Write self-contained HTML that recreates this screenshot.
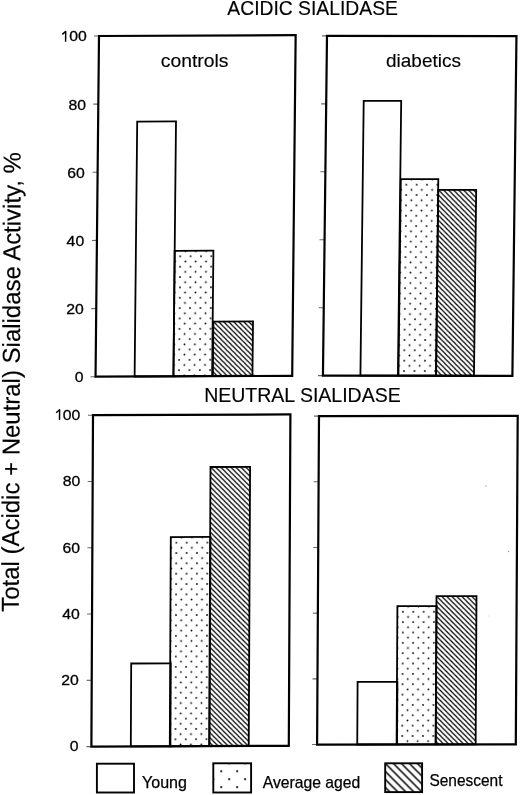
<!DOCTYPE html>
<html><head><meta charset="utf-8"><style>
html,body{margin:0;padding:0;background:#fff;}
body{filter:grayscale(1) blur(0.3px);}
svg{display:block;}
text{font-family:"Liberation Sans", sans-serif;fill:#000;stroke:#000;stroke-width:0.15px;}
text.num{stroke-width:0.3px;}
text.leg{stroke-width:0.25px;}
</style></head><body>
<svg width="520" height="795" viewBox="0 0 520 795">
<defs>
<pattern id="p1" patternUnits="userSpaceOnUse" width="10.35" height="10.35" x="83.48" y="220.76"><circle cx="0" cy="0" r="0.9"/><circle cx="10.35" cy="0" r="0.9"/><circle cx="0" cy="10.35" r="0.9"/><circle cx="10.35" cy="10.35" r="0.9"/><circle cx="5.175" cy="5.175" r="0.9"/></pattern>
<pattern id="p2" patternUnits="userSpaceOnUse" width="5.0" height="5.0" x="117.30" y="286.14"><path d="M-1.25,-1.25 L6.25,6.25 M-1.25,3.75 L1.25,6.25 M3.75,-1.25 L6.25,1.25" stroke="#000" stroke-width="1.25" fill="none"/></pattern>
<pattern id="p3" patternUnits="userSpaceOnUse" width="10.35" height="10.35" x="81.11" y="148.74"><circle cx="0" cy="0" r="0.9"/><circle cx="10.35" cy="0" r="0.9"/><circle cx="0" cy="10.35" r="0.9"/><circle cx="10.35" cy="10.35" r="0.9"/><circle cx="5.175" cy="5.175" r="0.9"/></pattern>
<pattern id="p4" patternUnits="userSpaceOnUse" width="5.0" height="5.0" x="113.13" y="153.81"><path d="M-1.25,-1.25 L6.25,6.25 M-1.25,3.75 L1.25,6.25 M3.75,-1.25 L6.25,1.25" stroke="#000" stroke-width="1.25" fill="none"/></pattern>
<pattern id="p5" patternUnits="userSpaceOnUse" width="10.35" height="10.35" x="83.99" y="127.82"><circle cx="0" cy="0" r="0.9"/><circle cx="10.35" cy="0" r="0.9"/><circle cx="0" cy="10.35" r="0.9"/><circle cx="10.35" cy="10.35" r="0.9"/><circle cx="5.175" cy="5.175" r="0.9"/></pattern>
<pattern id="p6" patternUnits="userSpaceOnUse" width="5.0" height="5.0" x="117.75" y="52.28"><path d="M-1.25,-1.25 L6.25,6.25 M-1.25,3.75 L1.25,6.25 M3.75,-1.25 L6.25,1.25" stroke="#000" stroke-width="1.25" fill="none"/></pattern>
<pattern id="p7" patternUnits="userSpaceOnUse" width="10.35" height="10.35" x="85.10" y="195.80"><circle cx="0" cy="0" r="0.9"/><circle cx="10.35" cy="0" r="0.9"/><circle cx="0" cy="10.35" r="0.9"/><circle cx="10.35" cy="10.35" r="0.9"/><circle cx="5.175" cy="5.175" r="0.9"/></pattern>
<pattern id="p8" patternUnits="userSpaceOnUse" width="5.0" height="5.0" x="118.54" y="180.15"><path d="M-1.25,-1.25 L6.25,6.25 M-1.25,3.75 L1.25,6.25 M3.75,-1.25 L6.25,1.25" stroke="#000" stroke-width="1.25" fill="none"/></pattern>
<pattern id="p9" patternUnits="userSpaceOnUse" width="15.9" height="15.9" x="213.30" y="763.30"><circle cx="0" cy="0" r="1.1"/><circle cx="15.9" cy="0" r="1.1"/><circle cx="0" cy="15.9" r="1.1"/><circle cx="15.9" cy="15.9" r="1.1"/><circle cx="7.95" cy="7.95" r="1.1"/></pattern>
<pattern id="p10" patternUnits="userSpaceOnUse" width="8.0" height="8.0" x="385.20" y="763.30"><path d="M-2.0,-2.0 L10.0,10.0 M-2.0,6.0 L2.0,10.0 M6.0,-2.0 L10.0,2.0" stroke="#000" stroke-width="1.5" fill="none"/></pattern>
</defs>
<rect width="520" height="795" fill="#fff"/>
<circle cx="486" cy="486" r="0.8" fill="#aaa"/>
<circle cx="508.6" cy="551.6" r="0.7" fill="#999"/>
<circle cx="489" cy="616" r="0.6" fill="#bbb"/>
<text x="227.31" y="15.30" font-size="19.6" textLength="170.67" lengthAdjust="spacingAndGlyphs">ACIDIC SIALIDASE</text>
<text x="204.16" y="401.90" font-size="19.8" textLength="196.53" lengthAdjust="spacingAndGlyphs">NEUTRAL SIALIDASE</text>
<text x="160.83" y="67.20" font-size="19" textLength="67.62" lengthAdjust="spacingAndGlyphs">controls</text>
<text x="386.05" y="67.00" font-size="19" textLength="74.88" lengthAdjust="spacingAndGlyphs">diabetics</text>
<g transform="matrix(1,-0.00458,-0.01013,1,99.00,36.00)">
<rect x="39.07" y="85.78" width="38.80" height="254.92" fill="#fff" stroke="#000" stroke-width="1.8"/>
<rect x="77.88" y="215.16" width="38.70" height="125.54" fill="url(#p1)" stroke="#000" stroke-width="1.8"/>
<rect x="117.30" y="286.14" width="39.60" height="54.56" fill="url(#p2)" stroke="#000" stroke-width="1.8"/>
<line x1="-5" y1="340.70" x2="0" y2="340.70" stroke="#666" stroke-width="1.1"/>
<line x1="-5" y1="272.56" x2="0" y2="272.56" stroke="#666" stroke-width="1.1"/>
<line x1="-5" y1="204.42" x2="0" y2="204.42" stroke="#666" stroke-width="1.1"/>
<line x1="-5" y1="136.28" x2="0" y2="136.28" stroke="#666" stroke-width="1.1"/>
<line x1="-5" y1="68.14" x2="0" y2="68.14" stroke="#666" stroke-width="1.1"/>
<line x1="-5" y1="0.00" x2="0" y2="0.00" stroke="#666" stroke-width="1.1"/>
<rect x="0" y="0" width="196.65" height="340.70" fill="none" stroke="#000" stroke-width="2.2"/>
</g>
<g transform="matrix(1,0.00079,-0.01192,1,327.00,35.90)">
<rect x="37.47" y="64.87" width="37.50" height="274.88" fill="#fff" stroke="#000" stroke-width="1.8"/>
<rect x="75.51" y="143.14" width="37.50" height="196.61" fill="url(#p3)" stroke="#000" stroke-width="1.8"/>
<rect x="113.13" y="153.81" width="37.90" height="185.94" fill="url(#p4)" stroke="#000" stroke-width="1.8"/>
<line x1="-5" y1="339.75" x2="0" y2="339.75" stroke="#666" stroke-width="1.1"/>
<line x1="-5" y1="271.80" x2="0" y2="271.80" stroke="#666" stroke-width="1.1"/>
<line x1="-5" y1="203.85" x2="0" y2="203.85" stroke="#666" stroke-width="1.1"/>
<line x1="-5" y1="135.90" x2="0" y2="135.90" stroke="#666" stroke-width="1.1"/>
<line x1="-5" y1="67.95" x2="0" y2="67.95" stroke="#666" stroke-width="1.1"/>
<line x1="-5" y1="0.00" x2="0" y2="0.00" stroke="#666" stroke-width="1.1"/>
<rect x="0" y="0" width="189.45" height="339.75" fill="none" stroke="#000" stroke-width="2.2"/>
</g>
<g transform="matrix(1,-0.00405,-0.00483,1,93.00,415.20)">
<rect x="39.40" y="248.46" width="39.60" height="82.94" fill="#fff" stroke="#000" stroke-width="1.8"/>
<rect x="78.39" y="122.22" width="39.70" height="209.18" fill="url(#p5)" stroke="#000" stroke-width="1.8"/>
<rect x="117.75" y="52.28" width="39.60" height="279.12" fill="url(#p6)" stroke="#000" stroke-width="1.8"/>
<line x1="-5" y1="331.40" x2="0" y2="331.40" stroke="#666" stroke-width="1.1"/>
<line x1="-5" y1="265.12" x2="0" y2="265.12" stroke="#666" stroke-width="1.1"/>
<line x1="-5" y1="198.84" x2="0" y2="198.84" stroke="#666" stroke-width="1.1"/>
<line x1="-5" y1="132.56" x2="0" y2="132.56" stroke="#666" stroke-width="1.1"/>
<line x1="-5" y1="66.28" x2="0" y2="66.28" stroke="#666" stroke-width="1.1"/>
<line x1="-5" y1="0.00" x2="0" y2="0.00" stroke="#666" stroke-width="1.1"/>
<rect x="0" y="0" width="197.40" height="331.40" fill="none" stroke="#000" stroke-width="2.2"/>
</g>
<g transform="matrix(1,-0.00126,-0.00578,1,319.00,416.10)">
<rect x="40.14" y="265.85" width="39.80" height="62.60" fill="#fff" stroke="#000" stroke-width="1.8"/>
<rect x="79.50" y="190.20" width="39.10" height="138.25" fill="url(#p7)" stroke="#000" stroke-width="1.8"/>
<rect x="118.54" y="180.15" width="40.00" height="148.30" fill="url(#p8)" stroke="#000" stroke-width="1.8"/>
<line x1="-5" y1="328.45" x2="0" y2="328.45" stroke="#666" stroke-width="1.1"/>
<line x1="-5" y1="262.76" x2="0" y2="262.76" stroke="#666" stroke-width="1.1"/>
<line x1="-5" y1="197.07" x2="0" y2="197.07" stroke="#666" stroke-width="1.1"/>
<line x1="-5" y1="131.38" x2="0" y2="131.38" stroke="#666" stroke-width="1.1"/>
<line x1="-5" y1="65.69" x2="0" y2="65.69" stroke="#666" stroke-width="1.1"/>
<line x1="-5" y1="0.00" x2="0" y2="0.00" stroke="#666" stroke-width="1.1"/>
<rect x="0" y="0" width="198.70" height="328.45" fill="none" stroke="#000" stroke-width="2.2"/>
</g>
<text x="69.23" y="41.31" font-size="15.0" textLength="17.54" lengthAdjust="spacingAndGlyphs" class="num">00</text>
<path d="M62.30,34.40 L65.70,31.40 L65.60,41.80" fill="none" stroke="#000" stroke-width="1.45" stroke-linejoin="round"/>
<text x="68.53" y="109.56" font-size="15.0" textLength="17.54" lengthAdjust="spacingAndGlyphs" class="num">80</text>
<text x="67.33" y="178.36" font-size="15.0" textLength="17.54" lengthAdjust="spacingAndGlyphs" class="num">60</text>
<text x="66.63" y="246.46" font-size="15.0" textLength="17.54" lengthAdjust="spacingAndGlyphs" class="num">40</text>
<text x="66.23" y="314.36" font-size="15.0" textLength="17.54" lengthAdjust="spacingAndGlyphs" class="num">20</text>
<text x="74.80" y="382.16" font-size="15.0" textLength="8.77" lengthAdjust="spacingAndGlyphs" class="num">0</text>
<text x="62.73" y="419.96" font-size="15.0" textLength="17.54" lengthAdjust="spacingAndGlyphs" class="num">00</text>
<path d="M56.10,412.80 L59.60,409.70 L59.50,420.00" fill="none" stroke="#000" stroke-width="1.45" stroke-linejoin="round"/>
<text x="62.73" y="486.16" font-size="15.0" textLength="17.54" lengthAdjust="spacingAndGlyphs" class="num">80</text>
<text x="62.53" y="552.76" font-size="15.0" textLength="17.54" lengthAdjust="spacingAndGlyphs" class="num">60</text>
<text x="62.23" y="618.76" font-size="15.0" textLength="17.54" lengthAdjust="spacingAndGlyphs" class="num">40</text>
<text x="61.23" y="685.26" font-size="15.0" textLength="17.54" lengthAdjust="spacingAndGlyphs" class="num">20</text>
<text x="69.80" y="751.46" font-size="15.0" textLength="8.77" lengthAdjust="spacingAndGlyphs" class="num">0</text>
<rect x="96.9" y="763.7" width="37.1" height="28.8" fill="#fff" stroke="#000" stroke-width="1.9"/>
<rect x="213.3" y="763.3" width="37.8" height="29.2" fill="url(#p9)" stroke="#000" stroke-width="1.9"/>
<rect x="385.2" y="763.3" width="36.9" height="28.8" fill="url(#p10)" stroke="#000" stroke-width="1.9"/>
<text x="142.01" y="788.00" font-size="16.2" textLength="44.94" lengthAdjust="spacingAndGlyphs" class="leg">Young</text>
<text x="262.72" y="787.60" font-size="16.2" textLength="97.64" lengthAdjust="spacingAndGlyphs" class="leg">Average aged</text>
<text x="429.45" y="785.80" font-size="16.2" textLength="73.01" lengthAdjust="spacingAndGlyphs" class="leg">Senescent</text>
<text transform="translate(18.70,611.78) rotate(-89.75)" x="0" y="0" font-size="24.5" textLength="459.68" lengthAdjust="spacingAndGlyphs">Total (Acidic + Neutral) Sialidase Activity, %</text>
</svg>
</body></html>
